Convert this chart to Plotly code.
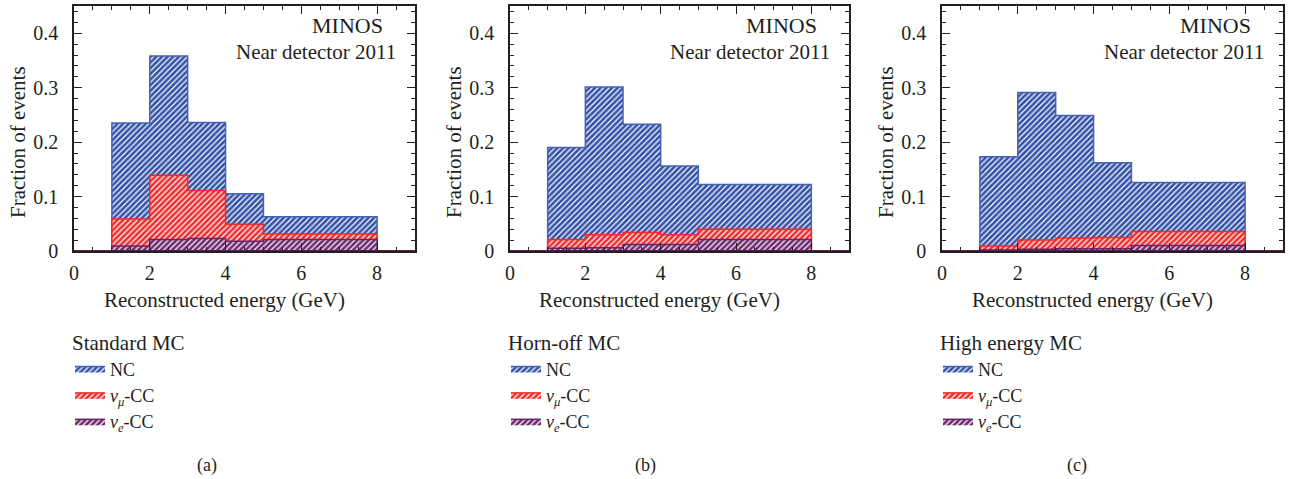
import plotly.graph_objects as go

# ---------------- data ----------------
bin_edges = [1, 2, 3, 4, 5, 8]

nc_a = [0.235, 0.358, 0.236, 0.105, 0.063]
numu_a = [0.059, 0.139, 0.111, 0.049, 0.031]
nue_a = [0.009, 0.021, 0.023, 0.018, 0.021]

nc_b = [0.190, 0.301, 0.233, 0.156, 0.122]
numu_b = [0.021, 0.030, 0.034, 0.030, 0.040]
nue_b = [0.005, 0.006, 0.012, 0.012, 0.021]

nc_c = [0.173, 0.291, 0.249, 0.162, 0.126]
numu_c = [0.009, 0.020, 0.024, 0.025, 0.036]
nue_c = [0.002, 0.003, 0.004, 0.004, 0.010]

panel_titles = ["Standard MC", "Horn-off MC", "High energy MC"]
panel_labels = ["(a)", "(b)", "(c)"]
series_names = ["NC", "<i>ν</i><sub><i>μ</i></sub>-CC", "<i>ν</i><sub><i>e</i></sub>-CC"]
x_tick_vals = [0, 2, 4, 6, 8]
y_tick_vals = [0, 0.1, 0.2, 0.3, 0.4]
y_tick_text = ["0", "0.1", "0.2", "0.3", "0.4"]

panels = [(nc_a, numu_a, nue_a), (nc_b, numu_b, nue_b), (nc_c, numu_c, nue_c)]

# ---------------- style ----------------
FONT = "Liberation Serif"
TXT = "#231f20"
FS = 20
line_cols = ["#4563b5", "#f02a2a", "#6b2368"]
fill_cols = ["#3553a8", "#f03030", "#6e2a6c"]

W, H = 1290, 479
x_domains = [(74 / W, 415 / W), (510 / W, 849 / W), (942 / W, 1283 / W)]
y_domain = ((H - 251) / H, (H - 6) / H)
label_x = [207 / W, 645 / W, 1077 / W]

fig = go.Figure()


def step_xy(edges, vals):
    xs = [edges[0]] + list(edges[:-1]) + [edges[-1], edges[-1]]
    ys = [0] + list(vals) + [vals[-1], 0]
    return xs, ys


for p, series in enumerate(panels):
    ax = "" if p == 0 else str(p + 1)
    leg = "legend" if p == 0 else f"legend{p + 1}"
    for s, vals in enumerate(series):
        xs, ys = step_xy(bin_edges, vals)
        fig.add_trace(go.Scatter(
            x=xs, y=ys, mode="lines", line_shape="hv",
            line=dict(color=line_cols[s], width=1.5),
            fill="tozeroy", fillcolor=fill_cols[s],
            fillpattern=dict(shape="/", bgcolor=fill_cols[s], fgcolor="white",
                             fgopacity=1, size=4, solidity=0.3),
            name=series_names[s], legend=leg,
            xaxis="x" + ax, yaxis="y" + ax,
            hoverinfo="skip",
        ))

layout = dict(
    width=W, height=H,
    margin=dict(l=0, r=0, t=0, b=0, autoexpand=False),
    paper_bgcolor="white", plot_bgcolor="white",
    font=dict(family=FONT, size=FS, color=TXT),
    showlegend=True,
)

annotations = []
shapes = []
for p in range(3):
    ax = "" if p == 0 else str(p + 1)
    xa = dict(
        domain=list(x_domains[p]), range=[0, 9], anchor="y" + ax,
        tickvals=x_tick_vals, ticks="inside", ticklen=8, tickwidth=1.2,
        tickcolor=TXT, showline=True, linecolor=TXT, linewidth=1.5,
        mirror="ticks", showgrid=False, zeroline=False, automargin=False,
        tickfont=dict(family=FONT, size=FS, color=TXT), ticklabelstandoff=3,
        minor=dict(dtick=0.5, ticks="inside", ticklen=4, tickcolor=TXT, tickwidth=1, showgrid=False),
    )
    ya = dict(
        domain=list(y_domain), range=[0, 0.45], anchor="x" + ax,
        tickvals=y_tick_vals, ticktext=y_tick_text,
        ticks="inside", ticklen=8, tickwidth=1.2,
        tickcolor=TXT, showline=True, linecolor=TXT, linewidth=1.5,
        mirror="ticks", showgrid=False, zeroline=False, automargin=False,
        tickfont=dict(family=FONT, size=FS, color=TXT), ticklabelstandoff=10,
        minor=dict(dtick=0.02, ticks="inside", ticklen=4, tickcolor=TXT, tickwidth=1, showgrid=False),
    )
    layout["xaxis" + ax] = xa
    layout["yaxis" + ax] = ya

    x0, x1 = x_domains[p]
    shapes.append(dict(type="line", xref="x" + ax, yref="y" + ax, x0=0, x1=9, y0=0, y1=0,
                       line=dict(color="#5c1a5a", width=2), layer="above"))
    annotations.append(dict(x=x1 - 30 / W, y=(H - 25) / H, xref="paper", yref="paper",
                            text="MINOS", showarrow=False, xanchor="right", yanchor="middle",
                            font=dict(family=FONT, size=22, color=TXT)))
    annotations.append(dict(x=x1 - 17 / W, y=(H - 52) / H, xref="paper", yref="paper",
                            text="Near detector 2011", showarrow=False, xanchor="right", yanchor="middle",
                            font=dict(family=FONT, size=21, color=TXT)))
    annotations.append(dict(x=x0 - 56 / W, y=(H - 142) / H, xref="paper", yref="paper",
                            text="Fraction of events", showarrow=False, textangle=-90,
                            xanchor="center", yanchor="middle",
                            font=dict(family=FONT, size=21, color=TXT)))
    annotations.append(dict(x=(x0 + x1) / 2 - 20 / W, y=(H - 300) / H, xref="paper", yref="paper",
                            text="Reconstructed energy (GeV)", showarrow=False,
                            xanchor="center", yanchor="middle",
                            font=dict(family=FONT, size=21, color=TXT)))
    annotations.append(dict(x=label_x[p], y=(H - 465) / H, xref="paper", yref="paper",
                            text=panel_labels[p], showarrow=False,
                            xanchor="center", yanchor="middle",
                            font=dict(family=FONT, size=18, color=TXT)))

    leg = "legend" if p == 0 else f"legend{p + 1}"
    layout[leg] = dict(
        x=x0 - 4 / W, y=(H - 323) / H, xanchor="left", yanchor="top",
        xref="paper", yref="paper",
        title=dict(text=panel_titles[p], font=dict(family=FONT, size=21, color=TXT)),
        font=dict(family=FONT, size=18, color=TXT),
        bgcolor="rgba(0,0,0,0)", tracegroupgap=0, itemwidth=30,
    )

layout["annotations"] = annotations
layout["shapes"] = shapes
fig.update_layout(**layout)

fig.write_html("out.html")
